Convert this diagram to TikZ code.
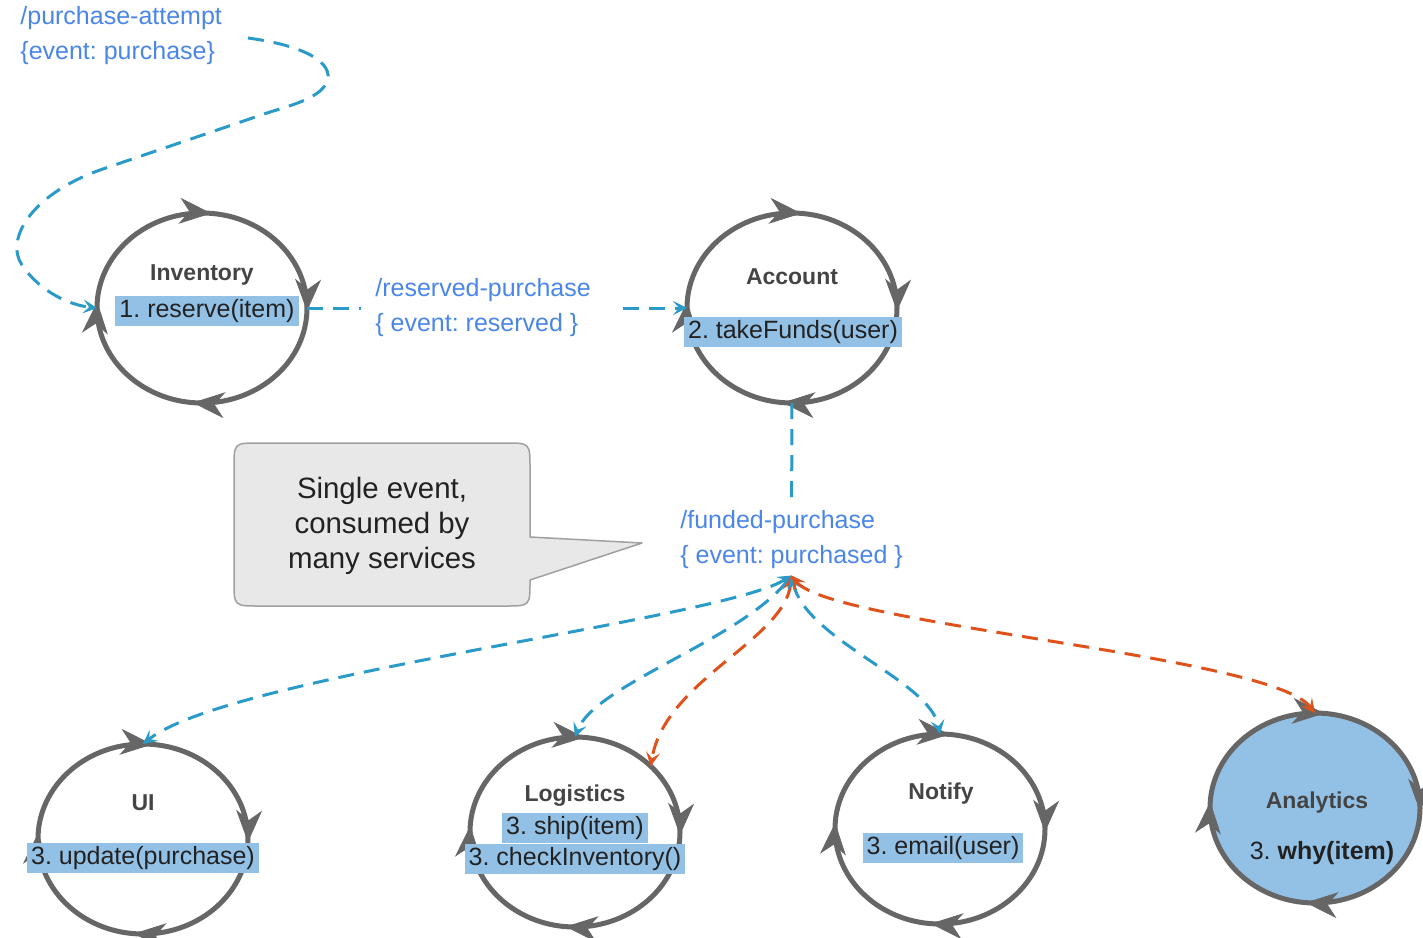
\documentclass[tikz,border=0pt]{standalone}
\usepackage{fontspec}
\setmainfont{Liberation Sans}
\frenchspacing
\usetikzlibrary{shapes.geometric,arrows.meta,decorations.markings,calc}
\definecolor{cgray}{HTML}{666666}
\definecolor{hl}{HTML}{93C1E6}
\definecolor{lbl}{HTML}{4A86E8}
\definecolor{lineblue}{HTML}{2A9AC8}
\definecolor{orng}{HTML}{E0521C}
\definecolor{ttlc}{HTML}{444444}
\definecolor{txtc}{HTML}{222222}
\definecolor{notefill}{HTML}{E8E8E8}
\definecolor{noteedge}{HTML}{A0A0A0}
\tikzset{
  cyctip/.tip={Stealth[length=16pt,width=13pt,inset=5pt,line width=0.4pt,color=cgray,fill=cgray]},
  tipb/.tip={Stealth[length=7pt,width=7pt,inset=3pt,line width=0.4pt]},
  cyc/.style={draw=cgray, line width=2.5pt, ellipse, minimum width=105pt, minimum height=95pt,
    inner sep=0pt, outer sep=0pt,
    postaction={decorate, decoration={markings,
      mark=at position 0.235 with {\arrowreversed{cyctip}},
      mark=at position 0.49 with {\arrowreversed{cyctip}},
      mark=at position 0.735 with {\arrowreversed{cyctip}},
      mark=at position 0.995 with {\arrowreversed{cyctip}}}}},
  ttl/.style={text=ttlc, font=\bfseries\fontsize{11.5}{13}\selectfont, inner sep=0pt},
  mth/.style={fill=hl, text=txtc, font=\fontsize{12.5}{14}\selectfont, inner xsep=2pt, inner ysep=1.2pt,
    text height=9.5pt, text depth=2.8pt},
  mthplain/.style={text=txtc, font=\fontsize{12.5}{14}\selectfont, inner sep=1pt},
  evt/.style={text=lbl, align=left, font=\fontsize{12.5}{17.5}\selectfont, inner sep=0pt},
  conn/.style={line width=1.5pt, dash pattern=on 8pt off 5pt},
  bconn/.style={conn, draw=lineblue, tipb-tipb},
  oconn/.style={conn, draw=orng, tipb-tipb},
}
\begin{document}
\begin{tikzpicture}[x=0.5pt,y=-0.5pt]
\useasboundingbox (0,0) rectangle (1423,937);

% callout
\draw[fill=notefill, draw=noteedge, line width=0.75pt, line join=round]
  (259,443) -- (505,443) .. controls (530,443) .. (530,468) -- (530,537) -- (642,543) -- (530,580)
  -- (530,581) .. controls (530,606) .. (505,606) -- (259,606) .. controls (234,606) .. (234,581)
  -- (234,468) .. controls (234,443) .. (259,443) -- cycle;
\node[text=txtc, align=center, font=\fontsize{14.7}{17.5}\selectfont] (note) at (382,526)
  {Single event,\\consumed by\\many services};

% services
\node[cyc] (inv) at (202,308) {};
\node[cyc] (acc) at (792,308) {};
\node[cyc] (ui)  at (143,839) {};
\node[cyc] (log) at (575,832) {};
\node[cyc] (nt)  at (940,829) {};
\node[cyc, fill=hl] (an) at (1315,808) {};

\node[ttl] (invt) at (202,275) {Inventory};
\node[ttl] (acct) at (792,277) {Account};
\node[ttl] (uit)  at (143,803) {UI};
\node[ttl] (logt) at (575,796) {Logistics};
\node[ttl] (ntt)  at (941,794) {Notify};
\node[ttl] (ant)  at (1317,803) {Analytics};

\node[mth] (invm) at (207,311) {1. reserve(item)};
\node[mth] (accm) at (793,332) {2. takeFunds(user)};
\node[mth] (uim)  at (143,858) {3. update(purchase)};
\node[mth] (logm1) at (575,828) {3. ship(item)};
\node[mth] (logm2) at (575,859) {3. checkInventory()};
\node[mth] (ntm)  at (943,848) {3. email(user)};
\node[mthplain] (anm) at (1322,853) {3. \textbf{why(item)}};

% event labels
\node[evt, anchor=west] (pa) at (20,36) {/purchase-attempt\\\{event: purchase\}};
\node[evt, anchor=west, inner xsep=7pt] (rs) at (361,308) {/reserved-purchase\\\{ event: reserved \}};
\node[evt, anchor=west, inner ysep=3pt] (fp) at (680,540) {/funded-purchase\\\{ event: purchased \}};

\coordinate (pastart) at (248,38);

% connectors
\draw[conn, lineblue, -tipb] (pastart) .. controls (300,45) and (330,60) .. (328,78)
  .. controls (325,95) and (300,103) .. (270,112) -- (100,170)
  .. controls (30,195) and (5,240) .. (22,265)
  .. controls (40,292) and (70,305) .. (inv.west);

\draw[conn, lineblue] (inv.east) -- (rs.west);
\draw[conn, lineblue, -tipb, shorten <=9pt] (rs.east) -- (acc.west);

\draw[conn, lineblue] (acc.south) -- (fp.north);

\draw[bconn] (fp.south) .. controls (720,620) and (230,675) .. (ui.north);
\draw[bconn] (fp.south) .. controls (740,640) and (595,685) .. (log.north);
\draw[oconn] (fp.south) .. controls (785,640) and (665,680) .. (log.41);
\draw[bconn] (fp.south) .. controls (805,640) and (930,680) .. (nt.north);
\draw[oconn] (fp.south) .. controls (830,625) and (1270,655) .. (an.north);
\end{tikzpicture}
\end{document}
